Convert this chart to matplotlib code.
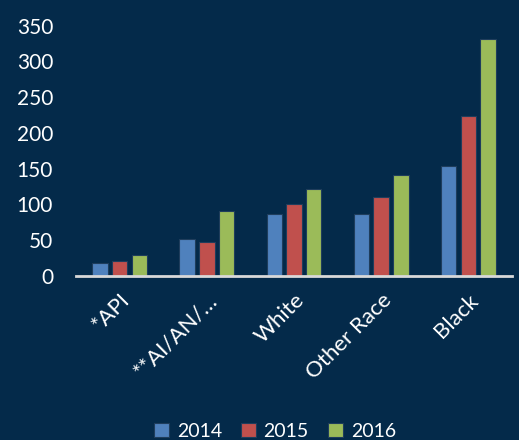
import matplotlib
matplotlib.use("Agg")
import matplotlib.pyplot as plt
import numpy as np

categories = ["*API", "**AI/AN/…", "White", "Other Race", "Black"]
series_names = ["2014", "2015", "2016"]
v2014 = [18, 52, 87, 87, 153]
v2015 = [21, 48, 101, 111, 223]
v2016 = [29, 91, 122, 141, 331]
colors = ["#4F81BD", "#C0504D", "#9BBB59"]
yticks = [0, 50, 100, 150, 200, 250, 300, 350]

bg = "#042A4A"
plt.rcParams['font.family'] = ['Lato', 'DejaVu Sans']

fig = plt.figure(figsize=(5.19, 4.40), dpi=100, facecolor=bg)
ax = fig.add_axes([76/519, 1-276/440, (512-76)/519, (276-25.5)/440])
ax.set_facecolor(bg)

x = np.arange(len(categories))
step = 0.226
width = 0.178
handles = []
for i, (vals, name) in enumerate(zip([v2014, v2015, v2016], series_names)):
    h = ax.bar(x + (i-1)*step, vals, width, color=colors[i], edgecolor="#1F3D5C",
               linewidth=0.8, label=name, zorder=2)
    handles.append(h)

ax.set_xlim(-0.5, len(categories)-0.5)
ax.set_ylim(0, 350)
ax.set_yticks(yticks)
ax.set_yticklabels([str(t) for t in yticks], color="white", fontsize=15)
ax.set_xticks(x)
ax.set_xticklabels(categories, rotation=45, ha="right", rotation_mode="anchor",
                   color="white", fontsize=16)
ax.tick_params(axis='both', length=0)
ax.tick_params(axis='y', pad=16.5)
ax.tick_params(axis='x', pad=10)
for s in ["top", "right", "left"]:
    ax.spines[s].set_visible(False)
ax.spines["bottom"].set_color("#D9D9D9")
ax.spines["bottom"].set_linewidth(2)
ax.spines["bottom"].set_zorder(3)

leg = fig.legend(handles=handles, labels=series_names, loc="center",
                 bbox_to_anchor=(0.53, 1-431/440), ncol=3, frameon=False,
                 fontsize=14, labelcolor="white", handlelength=0.75, handleheight=0.75,
                 columnspacing=1.0, handletextpad=0.4)

fig.savefig("out.png", dpi=100, facecolor=bg)
